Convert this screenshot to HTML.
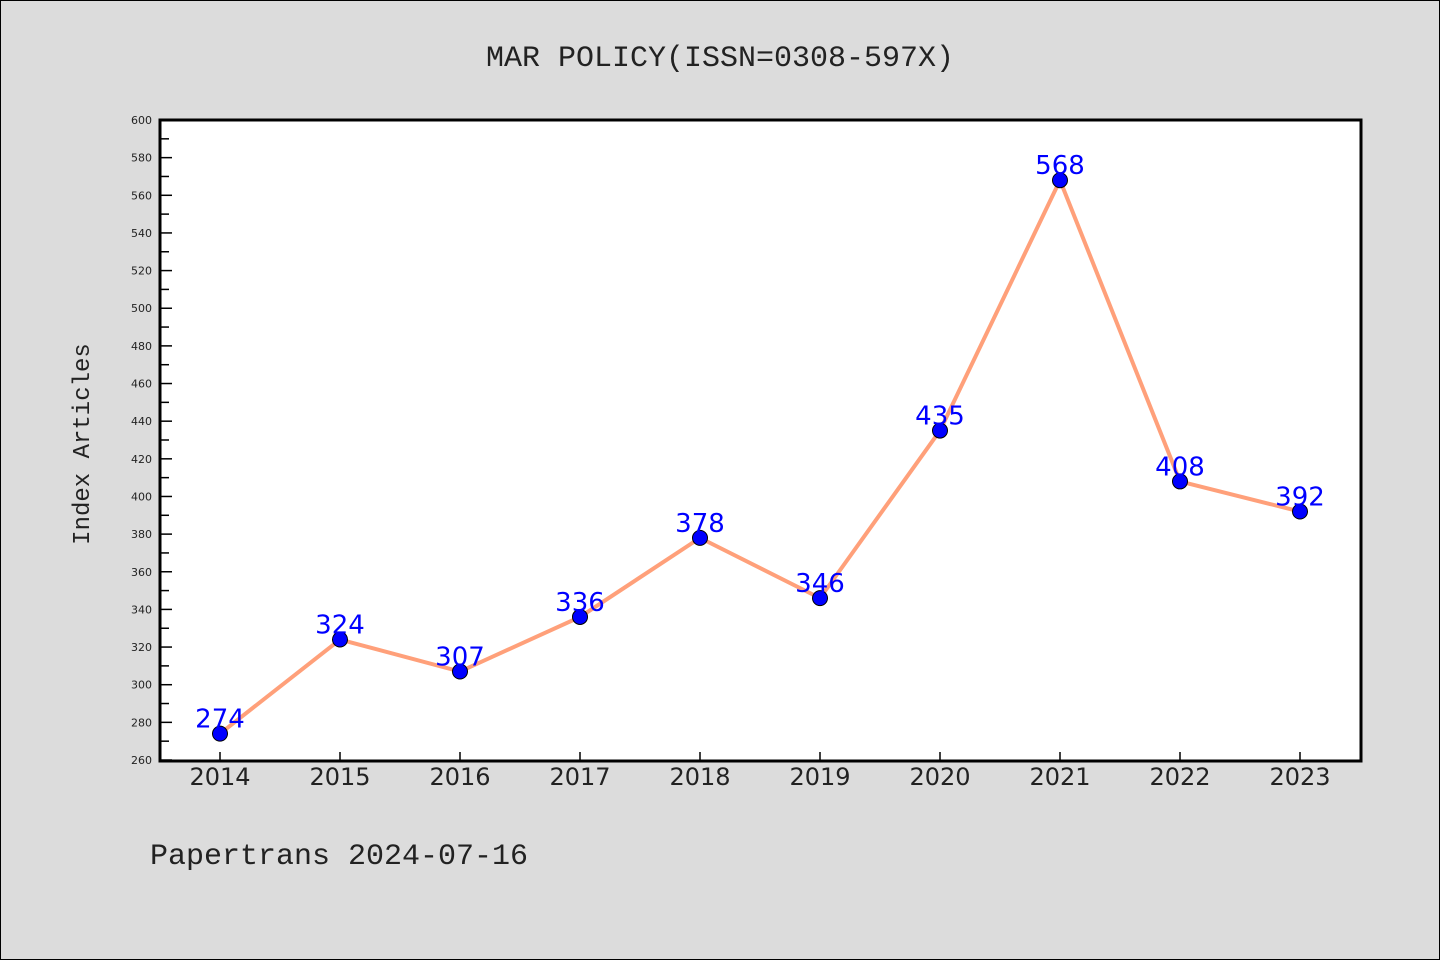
<!DOCTYPE html>
<html><head><meta charset="utf-8"><style>
body{margin:0;background:#dcdcdc;}
svg{display:block;font-family:"DejaVu Sans","Liberation Sans",sans-serif;}
.mono{font-family:"Liberation Mono","DejaVu Sans Mono",monospace;}
</style></head><body>
<svg id="c" width="1440" height="960" viewBox="0 0 1440 960">
<rect x="0.5" y="0.5" width="1439" height="959" fill="#dcdcdc" stroke="#000" stroke-width="1"/>
<text class="mono" x="720" y="66" text-anchor="middle" font-size="30" fill="#222">MAR POLICY(ISSN=0308-597X)</text>
<rect x="160" y="120" width="1201" height="641" fill="#fff"/>
<g id="ticks"></g>
<g id="series"></g>
<rect x="160" y="120" width="1201" height="641" fill="none" stroke="#000" stroke-width="3"/>
<text class="mono" transform="translate(89,444) rotate(-90)" text-anchor="middle" font-size="24" fill="#222">Index Articles</text>
<text class="mono" x="150" y="864" font-size="30" fill="#222">Papertrans 2024-07-16</text>
</svg>
<script>
const years=["2014","2015","2016","2017","2018","2019","2020","2021","2022","2023"];
const counts=[274,324,307,336,378,346,435,568,408,392];
const yTicks=[260,280,300,320,340,360,380,400,420,440,460,480,500,520,540,560,580,600];
(function(){
const NS="http://www.w3.org/2000/svg";
const yMin=260,yMax=600,pTop=120,pBot=760;
const y=v=>pBot-(v-yMin)/(yMax-yMin)*(pBot-pTop);
const x=i=>220+i*120;
function mk(t,a,p){const e=document.createElementNS(NS,t);for(const k in a)e.setAttribute(k,a[k]);p.appendChild(e);return e;}
const tg=document.getElementById('ticks'),sg=document.getElementById('series');
yTicks.forEach((v,i)=>{
 const l=mk('line',{x1:160,x2:172,y1:y(v),y2:y(v),stroke:'#000','stroke-width':1.5},tg);
 
 
 if(i<yTicks.length-1){const m=mk('line',{x1:160,x2:169,y1:y(v+10),y2:y(v+10),stroke:'#000','stroke-width':1.5},tg);
 
 }
 const t=mk('text',{x:152,y:y(v)+4,'text-anchor':'end','font-size':11,fill:'#222'},tg);
 t.textContent=v;
 
 
});
years.forEach((yr,i)=>{
 const l=mk('line',{x1:x(i),x2:x(i),y1:760,y2:752,stroke:'#000','stroke-width':1.5},tg);
 
 
 const t=mk('text',{x:x(i),y:785,'text-anchor':'middle','font-size':24,fill:'#222'},tg);
 t.textContent=yr;
 
 
});
const pl=mk('polyline',{points:counts.map((v,i)=>x(i)+','+y(v)).join(' '),fill:'none',stroke:'#ffa07a','stroke-width':4},sg);


counts.forEach((v,i)=>{
 const c=mk('circle',{cx:x(i),cy:y(v),r:7.5,fill:'#0000ff',stroke:'#000','stroke-width':1},sg);
 
 
 const t=mk('text',{x:x(i),y:y(v)-6,'text-anchor':'middle','font-size':26,fill:'#0000ff'},sg);
 t.textContent=v;
 
 
});
})();
</script>
</body></html>
